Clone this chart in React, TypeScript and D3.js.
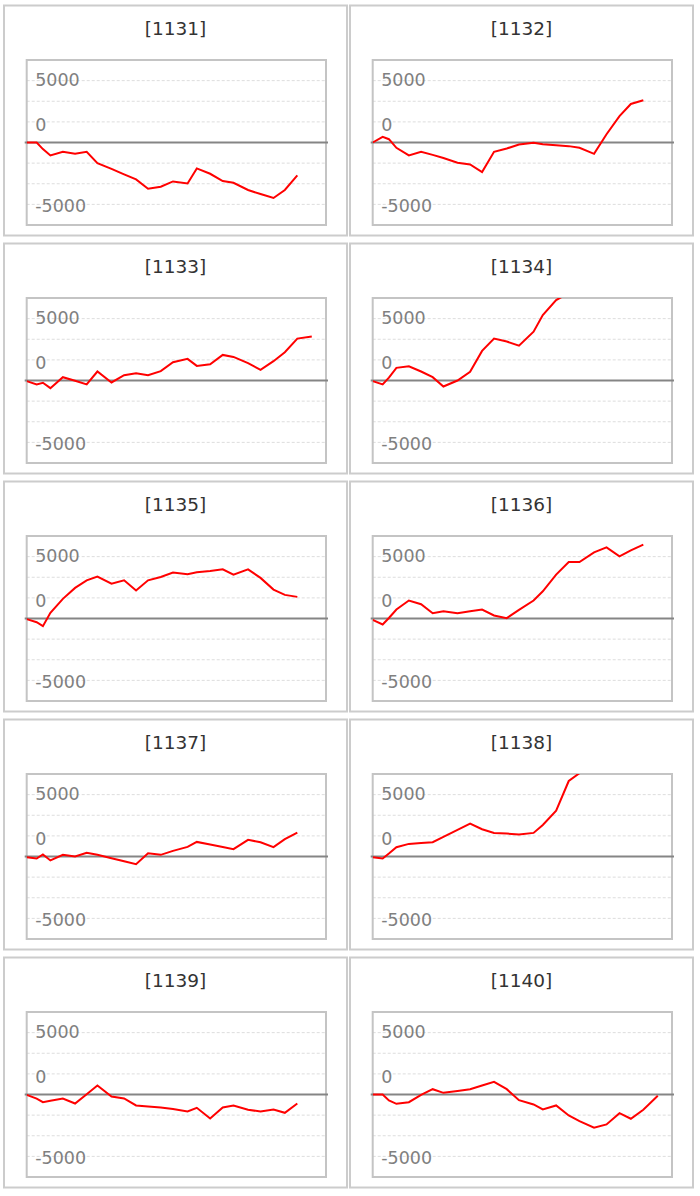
import React from 'react';
import * as d3 from 'd3';

// shared session positions along the x axis (0..24 spans the plot box)
const sessionX = [0, 0.8, 1.3, 1.9, 2.9, 3.88, 4.81, 5.67, 6.8, 7.81, 8.77, 9.73, 10.75, 11.73, 12.9, 13.64, 14.71, 15.72, 16.58, 17.75, 18.75, 19.79, 20.7, 21.7, 22.86];

const codes = ['1131', '1132', '1133', '1134', '1135', '1136', '1137', '1138', '1139', '1140'];

const s1131 = [0, 0, -800, -1570, -1130, -1370, -1130, -2500, -3200, -3870, -4470, -5600, -5360, -4720, -4960, -3140, -3790, -4680, -4880, -5760, -6250, -6730, -5760, -3990];
const s1132 = [0, 690, 400, -645, -1570, -1130, -1500, -1880, -2460, -2660, -3590, -1130, -725, -240, -40, -200, -335, -440, -645, -1370, 1000, 3190, 4670, 5120];
const s1133 = [-80, -480, -280, -930, 400, -40, -480, 1090, -240, 645, 890, 645, 1130, 2220, 2620, 1770, 1970, 3100, 2860, 2100, 1290, 2340, 3430, 5080, 5320];
const s1134 = [-80, -480, 350, 1530, 1730, 1090, 400, -725, 0, 1050, 3590, 5080, 4720, 4230, 5920, 7940, 9750, 10600];
const s1135 = [-80, -450, -930, 685, 2380, 3710, 4630, 5080, 4230, 4630, 3390, 4630, 5040, 5560, 5360, 5600, 5760, 5960, 5320, 5960, 4920, 3510, 2860, 2620];
const s1136 = [-160, -725, 60, 1090, 2180, 1730, 645, 890, 645, 890, 1090, 365, 40, 1050, 2180, 3300, 5320, 6850, 6850, 8020, 8620, 7540, 8260, 8950];
const s1137 = [-80, -240, 240, -480, 200, 0, 445, 200, -210, -580, -930, 400, 200, 685, 1170, 1770, 1450, 1150, 890, 2020, 1730, 1130, 2100, 2900];
const s1138 = [-80, -240, 360, 1130, 1530, 1630, 1730, 2380, 3230, 3990, 3300, 2860, 2780, 2660, 2860, 3820, 5560, 9150, 10100];
const s1139 = [-40, -500, -930, -770, -480, -1090, 40, 1090, -240, -480, -1330, -1450, -1570, -1770, -2060, -1610, -2900, -1570, -1330, -1850, -2060, -1810, -2220, -1090];
const s1140 = [0, 0, -725, -1130, -930, -40, 645, 200, 435, 645, 1090, 1530, 645, -685, -1210, -1810, -1330, -2540, -3220, -4030, -3630, -2260, -2940, -1850, -160];

const seriesList = [s1131, s1132, s1133, s1134, s1135, s1136, s1137, s1138, s1139, s1140];

const yDomain = [-10000, 10000];
const gridValues = [7500, 5000, 2500, -2500, -5000, -7500];
const tickLabels = [5000, 0, -5000];

const panelW = 343;
const panelH = 230;
const colX = [4, 350];
const rowTop = 5.5;
const rowStep = 238;

function Panel({ code, values, px, py }: { code: string; values: number[]; px: number; py: number }) {
  const left = px + 22.7;
  const right = px + 322;
  const top = py + 54.5;
  const bottom = py + 219.5;

  const x = d3.scaleLinear().domain([0, 24]).range([left, right]);
  const y = d3.scaleLinear().domain(yDomain).range([bottom, top]);

  const pts: [number, number][] = values.map((v, i) => [sessionX[i], v]);
  const line = d3.line<[number, number]>().x(d => x(d[0])).y(d => y(d[1]));

  // labels sit a little off their values in the original
  const labelY = (v: number) => (v === 0 ? y(0) - 18 : y(v * 1.5) + (v < 0 ? 1.5 : -1));

  const clipId = `clip-${code}`;

  return (
    <g>
      <rect x={px} y={py} width={panelW} height={panelH} fill="#fff" stroke="#cccccc" strokeWidth={2} />
      <text
        x={px + panelW / 2}
        y={py + 23}
        textAnchor="middle"
        dominantBaseline="central"
        fontFamily="DejaVu Sans, Verdana, sans-serif"
        fontSize={18.5}
        fill="#333"
      >
        [{code}]
      </text>
      <defs>
        <clipPath id={clipId}>
          <rect x={left} y={top} width={right - left} height={bottom - top} />
        </clipPath>
      </defs>
      {gridValues.map(g => (
        <line
          key={g}
          x1={left}
          x2={right}
          y1={y(g)}
          y2={y(g)}
          stroke="#dddddd"
          strokeWidth={1}
          strokeDasharray="3,2"
        />
      ))}
      {tickLabels.map(t => (
        <text
          key={t}
          x={left + 8.5}
          y={labelY(t)}
          dominantBaseline="central"
          fontFamily="DejaVu Sans, Verdana, sans-serif"
          fontSize={17.5}
          fill="#808080"
        >
          {t}
        </text>
      ))}
      <rect x={left} y={top} width={right - left} height={bottom - top} fill="none" stroke="#c4c4c4" strokeWidth={2} />
      <line x1={left - 2} x2={right + 2} y1={y(0)} y2={y(0)} stroke="#858585" strokeWidth={2} />
      <path d={line(pts) || ''} fill="none" stroke="#ff0000" strokeWidth={2} clipPath={`url(#${clipId})`} />
    </g>
  );
}

export default function App() {
  return (
    <svg
      width={700}
      height={1196}
      style={{ position: 'absolute', left: 0, top: 0, background: '#fff' }}
    >
      {codes.map((code, i) => (
        <Panel
          key={code}
          code={code}
          values={seriesList[i]}
          px={colX[i % 2]}
          py={rowTop + Math.floor(i / 2) * rowStep}
        />
      ))}
    </svg>
  );
}
